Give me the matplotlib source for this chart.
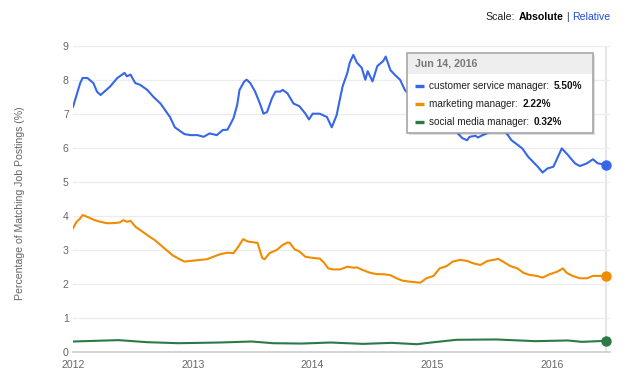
#!/usr/bin/env python3
"""Job-posting share trend chart with hover tooltip (Absolute scale)."""

import matplotlib

matplotlib.use("Agg")
import matplotlib.pyplot as plt
from matplotlib.lines import Line2D
from matplotlib.patches import Rectangle

plt.rcParams["font.family"] = ["Liberation Sans", "DejaVu Sans"]

W, H = 640, 382

# decimal years / percentage values
CSM_YEARS = [
    2012.00, 2012.06, 2012.08, 2012.12, 2012.17, 2012.20, 2012.23, 2012.31,
    2012.37, 2012.43, 2012.45, 2012.48, 2012.52, 2012.56, 2012.62, 2012.67,
    2012.73, 2012.77, 2012.81, 2012.85, 2012.89, 2012.93, 2012.98, 2013.04,
    2013.09, 2013.14, 2013.20, 2013.25, 2013.29, 2013.34, 2013.37, 2013.39,
    2013.43, 2013.45, 2013.48, 2013.52, 2013.56, 2013.59, 2013.62, 2013.66,
    2013.69, 2013.73, 2013.75, 2013.79, 2013.84, 2013.89, 2013.94, 2013.97,
    2014.00, 2014.06, 2014.12, 2014.16, 2014.20, 2014.25, 2014.29, 2014.31,
    2014.34, 2014.37, 2014.41, 2014.44, 2014.46, 2014.50, 2014.54, 2014.59,
    2014.61, 2014.65, 2014.69, 2014.73, 2014.77, 2014.83, 2014.90, 2014.98,
    2015.06, 2015.15, 2015.21, 2015.25, 2015.29, 2015.31, 2015.36, 2015.38,
    2015.42, 2015.46, 2015.52, 2015.58, 2015.62, 2015.66, 2015.75, 2015.80,
    2015.88, 2015.92, 2015.96, 2016.01, 2016.08, 2016.13, 2016.19, 2016.23,
    2016.29, 2016.34, 2016.38, 2016.45,
]
CSM_VALUES = [
    7.20, 7.90, 8.05, 8.05, 7.90, 7.65, 7.55, 7.80,
    8.05, 8.20, 8.10, 8.15, 7.90, 7.85, 7.70, 7.50,
    7.30, 7.10, 6.90, 6.60, 6.50, 6.40, 6.37, 6.37,
    6.32, 6.42, 6.37, 6.52, 6.53, 6.87, 7.25, 7.70,
    7.95, 8.00, 7.90, 7.65, 7.30, 7.00, 7.05, 7.45,
    7.65, 7.65, 7.70, 7.60, 7.30, 7.22, 7.00, 6.83,
    7.00, 7.00, 6.90, 6.60, 6.95, 7.80, 8.20, 8.50,
    8.73, 8.50, 8.35, 8.00, 8.25, 7.95, 8.40, 8.55,
    8.68, 8.28, 8.13, 8.00, 7.70, 7.45, 7.20, 6.95,
    6.75, 6.55, 6.43, 6.28, 6.22, 6.32, 6.35, 6.30,
    6.37, 6.43, 6.50, 6.50, 6.42, 6.22, 5.98, 5.73,
    5.44, 5.27, 5.39, 5.44, 5.98, 5.79, 5.54, 5.46,
    5.54, 5.66, 5.54, 5.50,
]

MKT_YEARS = [
    2012.00, 2012.03, 2012.06, 2012.08, 2012.13, 2012.18, 2012.23, 2012.28,
    2012.33, 2012.39, 2012.42, 2012.45, 2012.48, 2012.52, 2012.56, 2012.60,
    2012.64, 2012.68, 2012.73, 2012.78, 2012.83, 2012.89, 2012.93, 2012.98,
    2013.06, 2013.12, 2013.17, 2013.23, 2013.29, 2013.34, 2013.38, 2013.42,
    2013.46, 2013.50, 2013.54, 2013.58, 2013.60, 2013.64, 2013.70, 2013.75,
    2013.79, 2013.81, 2013.85, 2013.89, 2013.94, 2013.98, 2014.02, 2014.06,
    2014.10, 2014.13, 2014.17, 2014.23, 2014.29, 2014.34, 2014.37, 2014.42,
    2014.48, 2014.54, 2014.59, 2014.65, 2014.70, 2014.75, 2014.81, 2014.90,
    2014.95, 2015.01, 2015.06, 2015.12, 2015.17, 2015.23, 2015.29, 2015.34,
    2015.40, 2015.46, 2015.51, 2015.55, 2015.59, 2015.65, 2015.71, 2015.76,
    2015.81, 2015.87, 2015.92, 2015.98, 2016.04, 2016.09, 2016.12, 2016.17,
    2016.23, 2016.29, 2016.34, 2016.40, 2016.45,
]
MKT_VALUES = [
    3.63, 3.82, 3.92, 4.02, 3.95, 3.87, 3.82, 3.78,
    3.78, 3.80, 3.87, 3.82, 3.85, 3.68, 3.58, 3.48,
    3.38, 3.29, 3.14, 2.99, 2.84, 2.72, 2.65, 2.67,
    2.70, 2.72, 2.79, 2.87, 2.91, 2.90, 3.09, 3.31,
    3.24, 3.22, 3.20, 2.75, 2.72, 2.90, 2.99, 3.14,
    3.21, 3.20, 3.01, 2.95, 2.79, 2.77, 2.75, 2.74,
    2.60, 2.45, 2.42, 2.42, 2.50, 2.47, 2.48, 2.40,
    2.32, 2.28, 2.28, 2.25, 2.16, 2.09, 2.06, 2.03,
    2.16, 2.23, 2.45, 2.52, 2.65, 2.70, 2.67, 2.60,
    2.55, 2.67, 2.70, 2.73, 2.65, 2.52, 2.45, 2.32,
    2.26, 2.23, 2.18, 2.28, 2.35, 2.45, 2.32, 2.23,
    2.16, 2.16, 2.23, 2.23, 2.22,
]

SMM_YEARS = [
    2012.00, 2012.38, 2012.62, 2012.88, 2013.22, 2013.49, 2013.67, 2013.91,
    2014.15, 2014.42, 2014.66, 2014.87, 2014.99, 2015.20, 2015.53, 2015.86,
    2016.13, 2016.25, 2016.45,
]
SMM_VALUES = [
    0.30, 0.34, 0.28, 0.25, 0.27, 0.30, 0.25, 0.24,
    0.27, 0.23, 0.26, 0.22, 0.27, 0.35, 0.36, 0.31,
    0.33, 0.29, 0.32,
]

SERIES_NAMES = ["customer service manager", "marketing manager", "social media manager"]
SERIES_COLORS = ["#3567e8", "#f08c00", "#2b7a46"]
X_TICKS = [2012, 2013, 2014, 2015, 2016]
Y_TICKS = list(range(10))
HOVER_DATE = "Jun 14, 2016"

TEXT_GREY = "#666666"
FS = 7.6
TIP_FS = 7.2


def fx(px: float) -> float:
    return px / W


def fy(py: float) -> float:
    return 1 - py / H


fig = plt.figure(figsize=(W / 100, H / 100), dpi=100)
ax = fig.add_axes([fx(73), fy(351.7), (610 - 73) / W, (351.7 - 45.7) / H])

series = [
    (CSM_YEARS, CSM_VALUES),
    (MKT_YEARS, MKT_VALUES),
    (SMM_YEARS, SMM_VALUES),
]
for (years, values), color in zip(series, SERIES_COLORS):
    ax.plot(years, values, color=color, linewidth=1.5, zorder=3)
    ax.plot(years[-1], values[-1], "o", color=color, markersize=6.5,
            zorder=4, clip_on=False)

ax.axvline(CSM_YEARS[-1], color="#e3e3e3", linewidth=1.3, zorder=1)

ax.set_xlim(2012, 2012 + (610 - 73) / 119.8)
ax.set_ylim(0, 9)
ax.set_xticks(X_TICKS)
ax.set_xticklabels([str(t) for t in X_TICKS])
ax.set_yticks(Y_TICKS)
ax.tick_params(axis="both", length=0, labelsize=FS, colors=TEXT_GREY)
ax.tick_params(axis="x", pad=6)
ax.tick_params(axis="y", pad=3)
ax.grid(axis="y", color="#ececec", linewidth=0.9, zorder=0)
for side in ("top", "right", "left"):
    ax.spines[side].set_visible(False)
ax.spines["bottom"].set_color("#cccccc")
ax.spines["bottom"].set_linewidth(1.2)

fig.text(fx(20), fy(203), "Percentage of Matching Job Postings (%)",
         rotation=90, ha="center", va="center", fontsize=FS, color=TEXT_GREY)

renderer = fig.canvas.get_renderer()


def px_extent(txt):
    bb = txt.get_window_extent(renderer=renderer)
    return bb.x0, bb.x1


# scale switch, right aligned
right = 610
for label, kw, gap in [
    ("Relative", {"color": "#1f4fd8"}, 3),
    ("|", {"color": "#2a3570"}, 3),
    ("Absolute", {"color": "black", "fontweight": "bold"}, 3),
    ("Scale:", {"color": "#222222"}, 0),
]:
    t = fig.text(fx(right), fy(17.5), label, ha="right", va="center",
                 fontsize=FS, **kw)
    x0, _ = px_extent(t)
    right = x0 - gap

# tooltip
bx0, by0, bx1, by1 = 407, 53, 593, 133
fig.add_artist(Rectangle((fx(bx0 + 1.5), fy(by1 + 1.5)), (bx1 - bx0) / W,
                         (by1 - by0) / H, transform=fig.transFigure,
                         facecolor="#000000", alpha=0.12, edgecolor="none",
                         zorder=9))
fig.add_artist(Rectangle((fx(bx0), fy(by1)), (bx1 - bx0) / W, (by1 - by0) / H,
                         transform=fig.transFigure, facecolor="white",
                         edgecolor="#a6a6a6", linewidth=1.2, zorder=10))
fig.add_artist(Rectangle((fx(bx0 + 1), fy(74)), (bx1 - bx0 - 2) / W,
                         (74 - by0 - 1) / H, transform=fig.transFigure,
                         facecolor="#eeeeee", edgecolor="none", zorder=11))
fig.text(fx(415), fy(64), HOVER_DATE, ha="left", va="center", fontsize=FS,
         fontweight="bold", color="#777777", zorder=12)

row_y = [85.7, 104, 121.7]
series_last = [CSM_VALUES[-1], MKT_VALUES[-1], SMM_VALUES[-1]]
for name, value, color, y in zip(SERIES_NAMES, series_last, SERIES_COLORS, row_y):
    fig.add_artist(Line2D([fx(415), fx(424)], [fy(y), fy(y)],
                          transform=fig.transFigure, color=color,
                          linewidth=2.4, solid_capstyle="butt", zorder=12))
    t = fig.text(fx(429), fy(y), f"{name}:", ha="left", va="center",
                 fontsize=TIP_FS, color="#222222", zorder=12)
    _, x1 = px_extent(t)
    fig.text(fx(x1 + 5), fy(y), f"{value:.2f}%", ha="left", va="center",
             fontsize=TIP_FS, fontweight="bold", color="#111111", zorder=12)

fig.savefig("out.png", dpi=100)
